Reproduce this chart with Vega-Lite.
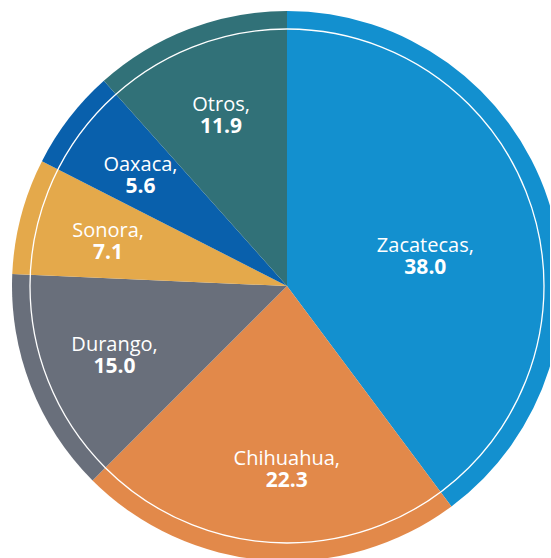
{
  "$schema": "https://vega.github.io/schema/vega-lite/v6.json",
  "autosize": "none",
  "width": 526,
  "height": 548,
  "padding": {"left": 24, "top": 12, "right": 0, "bottom": 0},
  "background": "white",
  "config": {"view": {"stroke": null}},
  "data": {
    "values": [
      {"estado": "Zacatecas", "nombre": "Zacatecas,", "valor": "38.0", "angulo": 39.8, "orden": 1, "grupo": "z"},
      {"estado": "Chihuahua", "nombre": "Chihuahua,", "valor": "22.3", "angulo": 22.7, "orden": 2, "grupo": "c"},
      {"estado": "Durango", "nombre": "Durango,", "valor": "15.0", "angulo": 13.2, "orden": 3, "grupo": "o"},
      {"estado": "Sonora", "nombre": "Sonora,", "valor": "7.1", "angulo": 6.8, "orden": 4, "grupo": "o"},
      {"estado": "Oaxaca", "nombre": "Oaxaca,", "valor": "5.6", "angulo": 5.9, "orden": 5, "grupo": "o"},
      {"estado": "Otros", "nombre": "Otros,", "valor": "11.9", "angulo": 11.6, "orden": 6, "grupo": "o"}
    ]
  },
  "encoding": {
    "theta": {"field": "angulo", "type": "quantitative", "stack": true, "scale": {"domain": [0, 100]}},
    "order": {"field": "orden", "type": "quantitative"}
  },
  "layer": [
    {
      "mark": {"type": "arc", "outerRadius": 275},
      "encoding": {
        "color": {
          "field": "estado",
          "type": "nominal",
          "legend": null,
          "scale": {
            "domain": ["Zacatecas", "Chihuahua", "Durango", "Sonora", "Oaxaca", "Otros"],
            "range": ["#1390CF", "#E2894A", "#696F7B", "#E4A94B", "#0960AC", "#317178"]
          }
        }
      }
    },
    {
      "data": {"values": [{"anillo": "contorno"}]},
      "mark": {"type": "arc", "radius": 257, "theta": 0, "theta2": 6.2832, "fill": null, "fillOpacity": 0, "stroke": "white", "strokeWidth": 1.3},
      "encoding": {"theta": null, "order": null}
    },
    {
      "mark": {"type": "text", "radius": 185, "dy": -2, "baseline": "alphabetic", "align": "center", "font": "Open Sans", "fontSize": 20, "color": "white"},
      "encoding": {
        "text": {"condition": {"test": "datum.grupo === 'o'", "field": "nombre", "type": "nominal"}, "value": ""}
      }
    },
    {
      "mark": {"type": "text", "radius": 185, "dy": 20, "baseline": "alphabetic", "align": "center", "font": "Open Sans", "fontSize": 21, "fontWeight": "bold", "color": "white"},
      "encoding": {
        "text": {"condition": {"test": "datum.grupo === 'o'", "field": "valor", "type": "nominal"}, "value": ""}
      }
    },
    {
      "mark": {"type": "text", "radius": 183, "dx": 13, "dy": -4, "baseline": "alphabetic", "align": "center", "font": "Open Sans", "fontSize": 20, "color": "white"},
      "encoding": {
        "text": {"condition": {"test": "datum.grupo === 'c'", "field": "nombre", "type": "nominal"}, "value": ""}
      }
    },
    {
      "mark": {"type": "text", "radius": 183, "dx": 13, "dy": 18, "baseline": "alphabetic", "align": "center", "font": "Open Sans", "fontSize": 21, "fontWeight": "bold", "color": "white"},
      "encoding": {
        "text": {"condition": {"test": "datum.grupo === 'c'", "field": "valor", "type": "nominal"}, "value": ""}
      }
    },
    {
      "mark": {"type": "text", "radius": 150, "dx": -4, "dy": 13, "baseline": "alphabetic", "align": "center", "font": "Open Sans", "fontSize": 20, "color": "white"},
      "encoding": {
        "text": {"condition": {"test": "datum.grupo === 'z'", "field": "nombre", "type": "nominal"}, "value": ""}
      }
    },
    {
      "mark": {"type": "text", "radius": 150, "dx": -4, "dy": 35, "baseline": "alphabetic", "align": "center", "font": "Open Sans", "fontSize": 21, "fontWeight": "bold", "color": "white"},
      "encoding": {
        "text": {"condition": {"test": "datum.grupo === 'z'", "field": "valor", "type": "nominal"}, "value": ""}
      }
    }
  ]
}
